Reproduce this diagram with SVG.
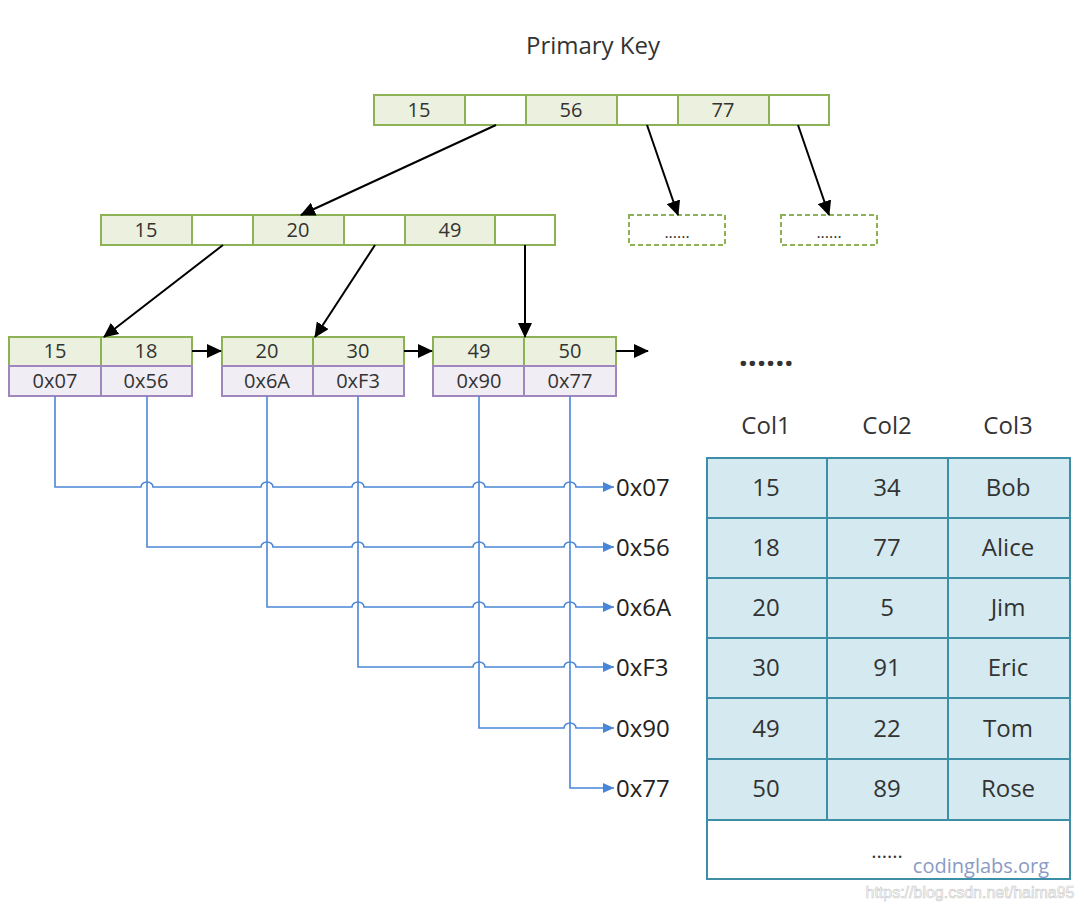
<svg xmlns="http://www.w3.org/2000/svg" width="1084" height="904" viewBox="0 0 1084 904">
<style>
text{font-family:"Open Sans","Noto Sans","Liberation Sans",sans-serif;fill:#333;text-anchor:middle}
.k{fill:#ebf1de;stroke:#8db255;stroke-width:2}
.e{fill:#fff;stroke:#8db255;stroke-width:2}
.p{fill:#f1edf5;stroke:#9f86bd;stroke-width:2}
.d{fill:#fff;stroke:#8db255;stroke-width:2;stroke-dasharray:5 3}
.t{fill:#d4eaf0;stroke:#3f8ea8;stroke-width:2}
.tw{fill:#fff;stroke:#3f8ea8;stroke-width:2}
.n{font-size:20px}
.l{font-size:24px}
.b{fill:none;stroke:#4a86d8;stroke-width:1.6}
.a{fill:none;stroke:#000;stroke-width:2}
.lab{font-size:24px;text-anchor:start;fill:#222}
</style>
<defs>
<marker id="ah" markerUnits="userSpaceOnUse" markerWidth="16" markerHeight="14" refX="14" refY="7" orient="auto"><path d="M0,0 L15,7 L0,14 z" fill="#000"/></marker>
<marker id="bh" markerUnits="userSpaceOnUse" markerWidth="12" markerHeight="10" refX="11" refY="5" orient="auto"><path d="M0,0 L11,5 L0,10 z" fill="#4a86d8"/></marker>
</defs>
<text x="593" y="54" class="l">Primary Key</text>
<g id="root">
<rect class="k" x="374" y="95" width="91" height="30"/><rect class="e" x="465" y="95" width="61" height="30"/>
<rect class="k" x="526" y="95" width="91" height="30"/><rect class="e" x="617" y="95" width="61" height="30"/>
<rect class="k" x="678" y="95" width="91" height="30"/><rect class="e" x="769" y="95" width="60" height="30"/>
<text class="n" x="419" y="117">15</text><text class="n" x="571" y="117">56</text><text class="n" x="723" y="117">77</text>
</g>
<g id="inner">
<rect class="k" x="101" y="215" width="91" height="30"/><rect class="e" x="192" y="215" width="61" height="30"/>
<rect class="k" x="253" y="215" width="91" height="30"/><rect class="e" x="344" y="215" width="61" height="30"/>
<rect class="k" x="405" y="215" width="90" height="30"/><rect class="e" x="495" y="215" width="60" height="30"/>
<text class="n" x="146" y="237">15</text><text class="n" x="298" y="237">20</text><text class="n" x="450" y="237">49</text>
</g>
<g id="more1"><rect class="d" x="629" y="215" width="96" height="30"/><text x="677" y="238" style="font-size:16px">......</text></g>
<g id="more2"><rect class="d" x="781" y="215" width="96" height="30"/><text x="829" y="238" style="font-size:16px">......</text></g>
<g id="leaf1">
<rect class="k" x="9" y="337" width="92" height="29"/><rect class="k" x="101" y="337" width="91" height="29"/>
<rect class="p" x="9" y="366" width="92" height="30"/><rect class="p" x="101" y="366" width="91" height="30"/>
<text class="n" x="55" y="358">15</text><text class="n" x="146" y="358">18</text>
<text class="n" x="55" y="388">0x07</text><text class="n" x="146" y="388">0x56</text>
</g>
<g id="leaf2">
<rect class="k" x="222" y="337" width="91" height="29"/><rect class="k" x="313" y="337" width="91" height="29"/>
<rect class="p" x="222" y="366" width="91" height="30"/><rect class="p" x="313" y="366" width="91" height="30"/>
<text class="n" x="267" y="358">20</text><text class="n" x="358" y="358">30</text>
<text class="n" x="267" y="388">0x6A</text><text class="n" x="358" y="388">0xF3</text>
</g>
<g id="leaf3">
<rect class="k" x="433" y="337" width="91" height="29"/><rect class="k" x="524" y="337" width="92" height="29"/>
<rect class="p" x="433" y="366" width="91" height="30"/><rect class="p" x="524" y="366" width="92" height="30"/>
<text class="n" x="479" y="358">49</text><text class="n" x="570" y="358">50</text>
<text class="n" x="479" y="388">0x90</text><text class="n" x="570" y="388">0x77</text>
</g>
<text x="766" y="366" style="font-size:32px;font-weight:bold">......</text>
<g id="connectors">
<line class="a" x1="496" y1="125" x2="301" y2="215" marker-end="url(#ah)"/>
<line class="a" x1="647" y1="125" x2="678" y2="215" marker-end="url(#ah)"/>
<line class="a" x1="798" y1="125" x2="829" y2="215" marker-end="url(#ah)"/>
<line class="a" x1="223" y1="245" x2="104" y2="337" marker-end="url(#ah)"/>
<line class="a" x1="375" y1="245" x2="315" y2="337" marker-end="url(#ah)"/>
<line class="a" x1="525" y1="245" x2="525" y2="337" marker-end="url(#ah)"/>
<line class="a" x1="192" y1="351" x2="221" y2="351" marker-end="url(#ah)"/>
<line class="a" x1="404" y1="351" x2="432" y2="351" marker-end="url(#ah)"/>
<line class="a" x1="616" y1="351" x2="648" y2="351" marker-end="url(#ah)"/>
<path class="b" d="M55,396 V487 H141 A6 5 0 0 1 153,487 H261 A6 5 0 0 1 273,487 H352 A6 5 0 0 1 364,487 H473 A6 5 0 0 1 485,487 H564 A6 5 0 0 1 576,487 H614" marker-end="url(#bh)"/>
<path class="b" d="M147,396 V547 H261 A6 5 0 0 1 273,547 H352 A6 5 0 0 1 364,547 H473 A6 5 0 0 1 485,547 H564 A6 5 0 0 1 576,547 H614" marker-end="url(#bh)"/>
<path class="b" d="M267,396 V607 H352 A6 5 0 0 1 364,607 H473 A6 5 0 0 1 485,607 H564 A6 5 0 0 1 576,607 H614" marker-end="url(#bh)"/>
<path class="b" d="M358,396 V667 H473 A6 5 0 0 1 485,667 H564 A6 5 0 0 1 576,667 H614" marker-end="url(#bh)"/>
<path class="b" d="M479,396 V728 H564 A6 5 0 0 1 576,728 H614" marker-end="url(#bh)"/>
<path class="b" d="M570,396 V788 H614" marker-end="url(#bh)"/>
</g>
<g id="labels">
<text class="lab" x="616" y="496">0x07</text>
<text class="lab" x="616" y="556">0x56</text>
<text class="lab" x="616" y="616">0x6A</text>
<text class="lab" x="616" y="676">0xF3</text>
<text class="lab" x="616" y="737">0x90</text>
<text class="lab" x="616" y="797">0x77</text>
</g>
<g id="table">
<text class="l" x="766" y="434">Col1</text><text class="l" x="887" y="434">Col2</text><text class="l" x="1008" y="434">Col3</text>
<rect class="t" x="707" y="458" width="120" height="60"/><rect class="t" x="827" y="458" width="121" height="60"/><rect class="t" x="948" y="458" width="122" height="60"/>
<rect class="t" x="707" y="518" width="120" height="60"/><rect class="t" x="827" y="518" width="121" height="60"/><rect class="t" x="948" y="518" width="122" height="60"/>
<rect class="t" x="707" y="578" width="120" height="60"/><rect class="t" x="827" y="578" width="121" height="60"/><rect class="t" x="948" y="578" width="122" height="60"/>
<rect class="t" x="707" y="638" width="120" height="60"/><rect class="t" x="827" y="638" width="121" height="60"/><rect class="t" x="948" y="638" width="122" height="60"/>
<rect class="t" x="707" y="698" width="120" height="61"/><rect class="t" x="827" y="698" width="121" height="61"/><rect class="t" x="948" y="698" width="122" height="61"/>
<rect class="t" x="707" y="759" width="120" height="61"/><rect class="t" x="827" y="759" width="121" height="61"/><rect class="t" x="948" y="759" width="122" height="61"/>
<rect class="tw" x="707" y="820" width="363" height="59"/>
<text class="l" x="766" y="496">15</text><text class="l" x="887" y="496">34</text><text class="l" x="1008" y="496">Bob</text>
<text class="l" x="766" y="556">18</text><text class="l" x="887" y="556">77</text><text class="l" x="1008" y="556">Alice</text>
<text class="l" x="766" y="616">20</text><text class="l" x="887" y="616">5</text><text class="l" x="1008" y="616">Jim</text>
<text class="l" x="766" y="676">30</text><text class="l" x="887" y="676">91</text><text class="l" x="1008" y="676">Eric</text>
<text class="l" x="766" y="737">49</text><text class="l" x="887" y="737">22</text><text class="l" x="1008" y="737">Tom</text>
<text class="l" x="766" y="797">50</text><text class="l" x="887" y="797">89</text><text class="l" x="1008" y="797">Rose</text>
<text x="887" y="858" style="font-size:20px">......</text>
</g>
<text x="981" y="873" style="font-size:20px;fill:#8a9bc4">codinglabs.org</text>
<text x="970" y="898" style="font-size:16px;fill:#fff;stroke:#c8c8c8;stroke-width:0.6;font-family:'Liberation Sans',sans-serif">https://blog.csdn.net/haima95</text>
</svg>
